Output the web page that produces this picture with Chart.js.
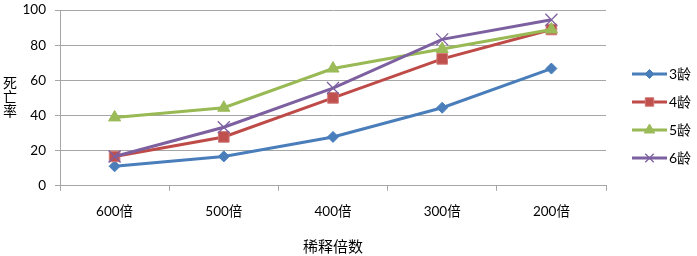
<!DOCTYPE html>
<html>
<head>
<meta charset="utf-8">
<script src="https://cdn.jsdelivr.net/npm/chart.js@4/dist/chart.umd.min.js"></script>
<style>
html,body{margin:0;padding:0;background:#fff;}
#wrap{position:relative;width:697px;height:256px;}
</style>
</head>
<body>
<div id="wrap"><canvas id="c" width="697" height="256"></canvas></div>
<script>
const categories = ['600倍', '500倍', '400倍', '300倍', '200倍'];
const seriesNames = ['3龄', '4龄', '5龄', '6龄'];
const s3 = [11.1, 16.7, 27.8, 44.4, 66.7];
const s4 = [16.7, 27.8, 50.0, 72.2, 88.9];
const s5 = [38.9, 44.4, 66.7, 77.8, 88.9];
const s6 = [16.7, 33.3, 55.6, 83.3, 94.4];
const yTicks = [0, 20, 40, 60, 80, 100];
const xTitle = '稀释倍数';
const yTitle = '死亡率';

const FONT = "Lato, 'Noto Sans CJK SC', sans-serif";
const GRID = '#a6a6a6';

const styles = [
  {color:'#4A7EBB', fill:'#4A7EBB', border:'#4A7EBB', pointStyle:'rectRot', r:5.5, lr:4.5, bw:1},
  {color:'#BE4B48', fill:'#C0504D', border:'#D07A78', pointStyle:'rect', r:7.5, lr:6, bw:1},
  {color:'#98B954', fill:'#9BBB59', border:'#9BBB59', pointStyle:'triangle', r:7, lr:6, bw:1},
  {color:'#7D60A0', fill:'#8064A2', border:'#7D60A0', pointStyle:'crossRot', r:8.5, lr:6, bw:1.3}
];
const values = [s3, s4, s5, s6];

const datasets = values.map((v, i) => ({
  label: seriesNames[i],
  data: v,
  borderColor: styles[i].color,
  backgroundColor: styles[i].fill,
  borderWidth: 3,
  tension: 0,
  pointStyle: styles[i].pointStyle,
  pointRadius: styles[i].r,
  pointHoverRadius: styles[i].r,
  pointBackgroundColor: styles[i].fill,
  pointBorderColor: styles[i].border,
  pointBorderWidth: styles[i].bw,
  order: values.length - i
}));

const extras = {
  id: 'extras',
  afterDraw(chart) {
    const ctx = chart.ctx;
    ctx.save();
    ctx.fillStyle = '#000';
    ctx.font = "14px " + FONT;
    ctx.textAlign = 'center';
    ctx.textBaseline = 'middle';
    const mid = (chart.chartArea.top + chart.chartArea.bottom) / 2;
    const chars = Array.from(yTitle);
    chars.forEach((ch, k) => {
      ctx.fillText(ch, 10, mid + (k - (chars.length - 1) / 2) * 14);
    });
    chart.data.datasets.forEach((ds, i) => {
      const y = 74 + i * 28;
      const x0 = 632, x1 = 667;
      ctx.strokeStyle = ds.borderColor;
      ctx.lineWidth = 3;
      ctx.beginPath();
      ctx.moveTo(x0, y);
      ctx.lineTo(x1, y);
      ctx.stroke();
      ctx.fillStyle = ds.pointBackgroundColor;
      ctx.strokeStyle = ds.pointBorderColor;
      ctx.lineWidth = ds.pointBorderWidth;
      Chart.helpers.drawPoint(ctx, {pointStyle: ds.pointStyle, radius: styles[i].lr, rotation: 0, borderWidth: ds.pointBorderWidth}, (x0 + x1) / 2, y);
      ctx.fillStyle = '#000';
      ctx.font = "14px " + FONT;
      ctx.textAlign = 'left';
      ctx.textBaseline = 'middle';
      ctx.fillText(ds.label, 669, y);
    });
    ctx.restore();
  }
};

new Chart(document.getElementById('c'), {
  type: 'line',
  data: { labels: categories, datasets },
  options: {
    responsive: false,
    animation: false,
    devicePixelRatio: 1,
    layout: { padding: { left: 18, right: 91, top: 10, bottom: 0 } },
    plugins: {
      legend: { display: false },
      tooltip: { enabled: false }
    },
    scales: {
      x: {
        type: 'category',
        offset: true,
        grid: { drawOnChartArea: false, offset: true, drawTicks: true, tickLength: 5, color: GRID, lineWidth: 1 },
        border: { color: GRID, width: 1 },
        ticks: { color: '#000', font: { family: FONT, size: 13.5 }, padding: 13, maxRotation: 0 },
        title: { display: true, text: xTitle, color: '#000', font: { family: FONT, size: 15 }, padding: { top: 5, bottom: 0 } }
      },
      y: {
        min: 0, max: 100,
        afterBuildTicks: (s) => { s.ticks = yTicks.map(v => ({ value: v })); },
        afterFit: (s) => { s.width = 42; s.paddingTop = 0; s.paddingBottom = 0; },
        grid: { color: GRID, lineWidth: 1, tickLength: 5 },
        border: { color: GRID, width: 1 },
        ticks: { color: '#000', font: { family: FONT, size: 13.5 }, padding: 9 }
      }
    }
  },
  plugins: [extras]
});
</script>
</body>
</html>
